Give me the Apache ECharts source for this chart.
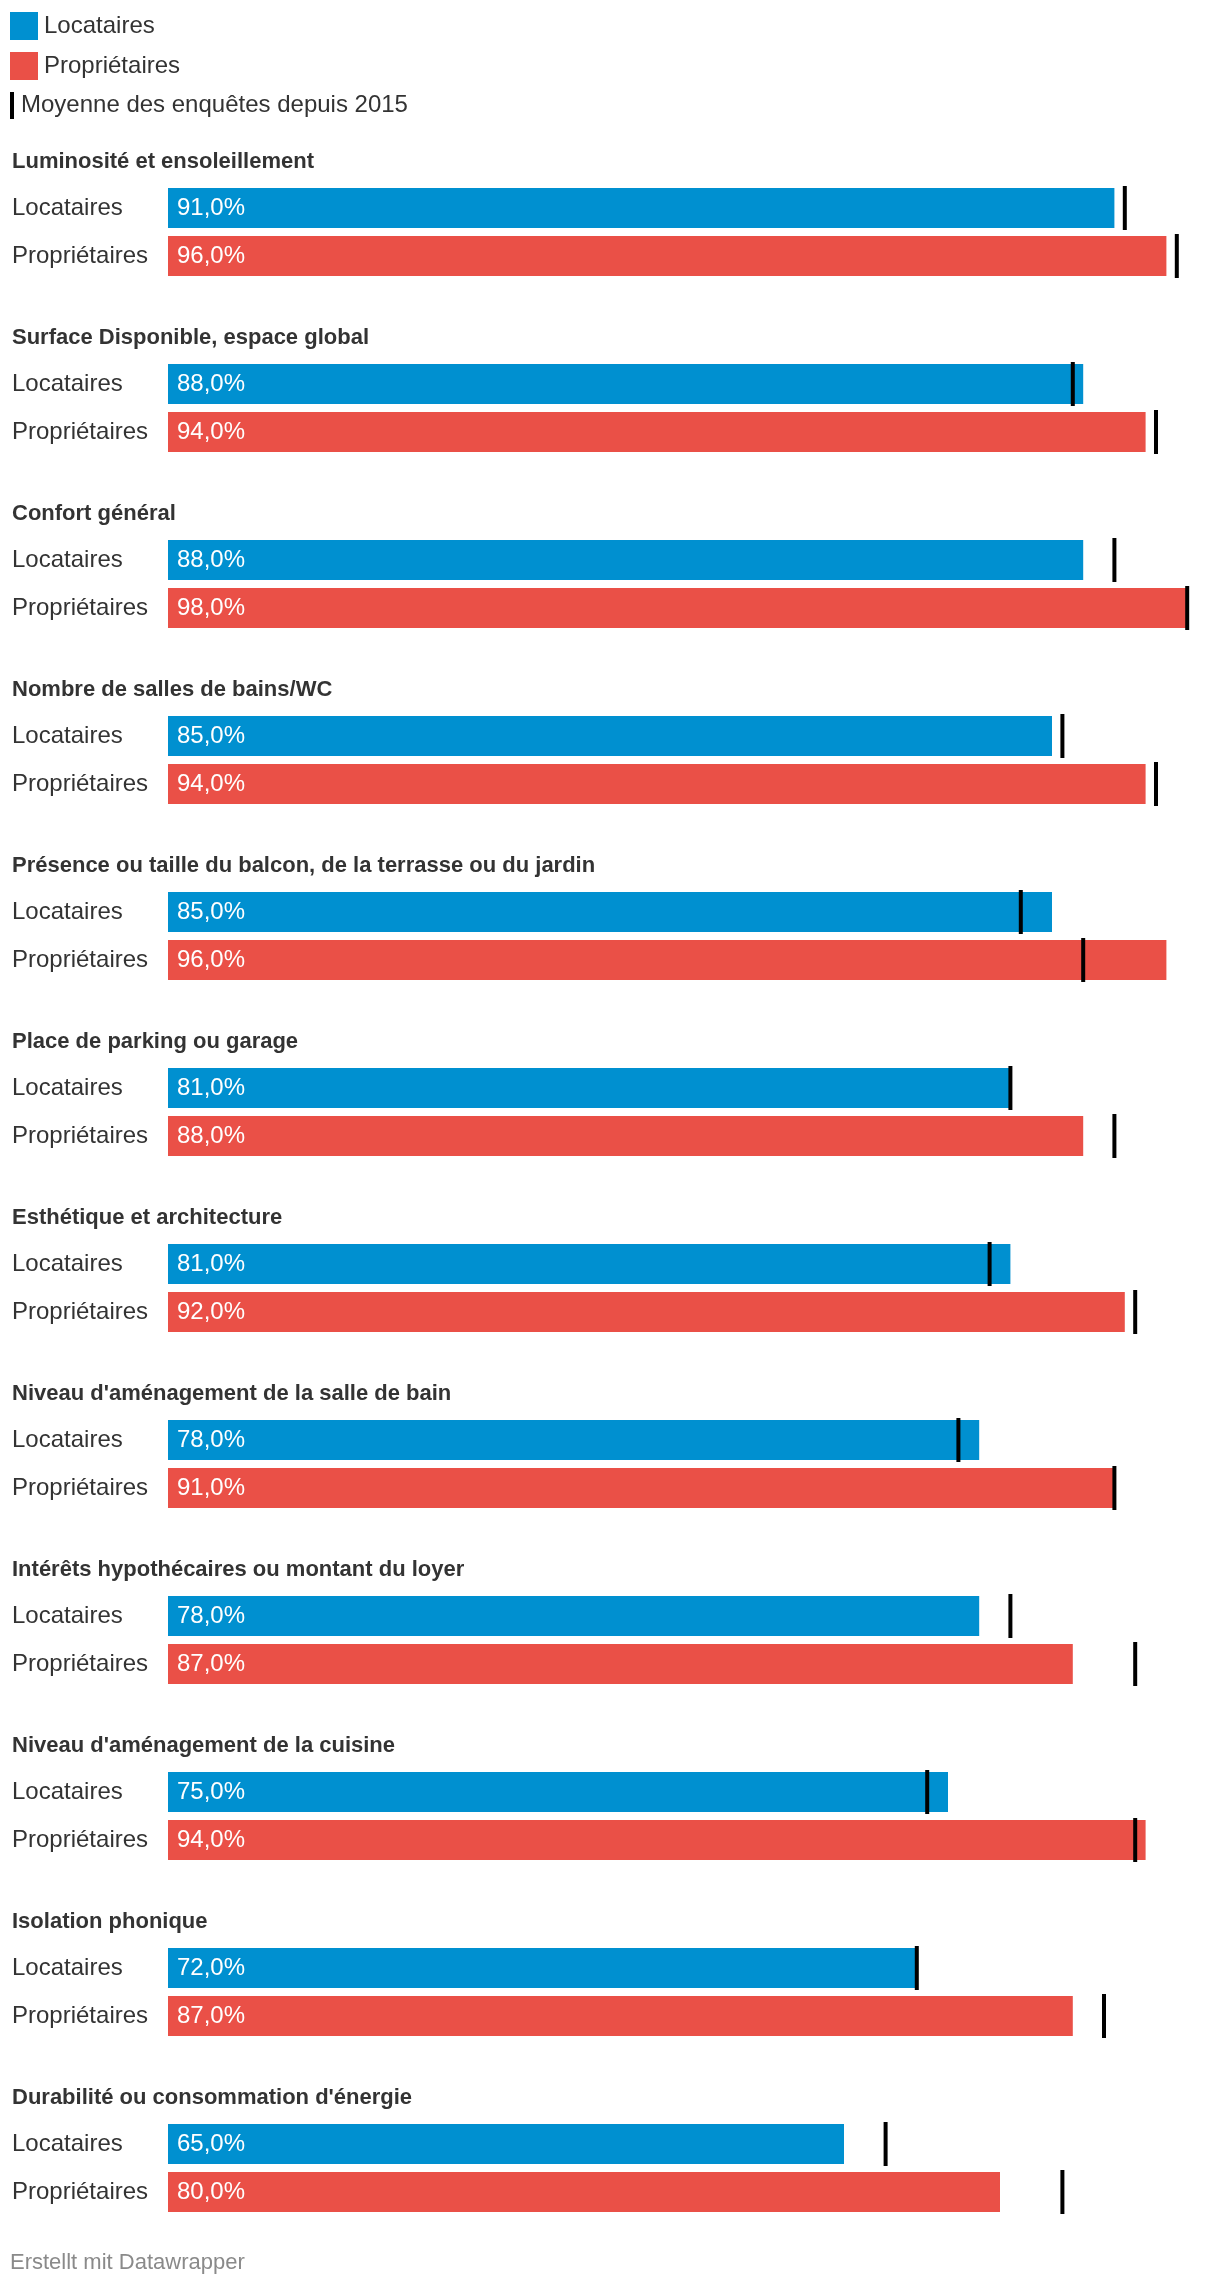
<!DOCTYPE html>
<html>
<head>
<meta charset="utf-8">
<script src="https://cdn.jsdelivr.net/npm/echarts@6/dist/echarts.min.js"></script>
<style>
html,body{margin:0;padding:0;background:#fff;}
#chart{width:1220px;height:2288px;}
</style>
</head>
<body>
<div id="chart"></div>
<script>
const categories = [
  "Luminosité et ensoleillement",
  "Surface Disponible, espace global",
  "Confort général",
  "Nombre de salles de bains/WC",
  "Présence ou taille du balcon, de la terrasse ou du jardin",
  "Place de parking ou garage",
  "Esthétique et architecture",
  "Niveau d'aménagement de la salle de bain",
  "Intérêts hypothécaires ou montant du loyer",
  "Niveau d'aménagement de la cuisine",
  "Isolation phonique",
  "Durabilité ou consommation d'énergie"
];
const rowLabels = ["Locataires", "Propriétaires"];
const locataires = [91, 88, 88, 85, 85, 81, 81, 78, 78, 75, 72, 65];
const proprietaires = [96, 94, 98, 94, 96, 88, 92, 91, 87, 94, 87, 80];
const moyenneLocataires = [92, 87, 91, 86, 82, 81, 79, 76, 81, 73, 72, 69];
const moyenneProprietaires = [97, 95, 98, 95, 88, 91, 93, 91, 93, 93, 90, 86];
const meanLabel = "Moyenne des enquêtes depuis 2015";
const footerText = "Erstellt mit Datawrapper";

const FONT = "'Liberation Sans', Arial, Helvetica, sans-serif";
const BLUE = "#0090d0";
const RED = "#ea5047";
const GROUP_PITCH = 176;
const FIRST_GRID_TOP = 184;

const grids = [], xAxes = [], yAxes = [], series = [], titles = [];
categories.forEach((cat, i) => {
  const top = FIRST_GRID_TOP + GROUP_PITCH * i;
  grids.push({ left: 168, right: 12, top: top, height: 96, containLabel: false });
  xAxes.push({ type: 'value', gridIndex: i, min: 0, max: 100, show: false });
  yAxes.push({
    type: 'category', gridIndex: i, data: rowLabels, inverse: true,
    axisLine: { show: false }, axisTick: { show: false }, splitLine: { show: false },
    axisLabel: { align: 'left', margin: 156, fontSize: 24, color: '#333', fontFamily: FONT }
  });
  titles.push({
    text: cat, left: 12, top: top - 34, padding: 0,
    textStyle: { fontSize: 22, fontWeight: 'bold', color: '#333', fontFamily: FONT, lineHeight: 24 }
  });
  const lbl = {
    show: true, position: 'insideLeft', distance: 9, color: '#fff', fontSize: 24, fontFamily: FONT,
    formatter: p => (typeof p.value === 'number') ? p.value.toFixed(1).replace('.', ',') + '%' : ''
  };
  series.push({
    name: 'Locataires', type: 'bar', xAxisIndex: i, yAxisIndex: i, stack: 'g' + i,
    barWidth: 40, itemStyle: { color: BLUE }, label: lbl,
    data: [locataires[i], '-'], animation: false
  });
  series.push({
    name: 'Propriétaires', type: 'bar', xAxisIndex: i, yAxisIndex: i, stack: 'g' + i,
    barWidth: 40, itemStyle: { color: RED }, label: lbl,
    data: ['-', proprietaires[i]], animation: false
  });
  series.push({
    name: meanLabel, type: 'scatter', xAxisIndex: i, yAxisIndex: i,
    symbol: 'rect', symbolSize: [4, 44], itemStyle: { color: '#000', opacity: 1 }, z: 5,
    emphasis: { disabled: true },
    data: [[moyenneLocataires[i], rowLabels[0]], [moyenneProprietaires[i], rowLabels[1]]],
    animation: false
  });
});

titles.push({
  text: footerText, left: 10, top: 2252, padding: 0,
  textStyle: { fontSize: 22, fontWeight: 'normal', color: '#8a8a8a', fontFamily: FONT, lineHeight: 22 }
});

const chart = echarts.init(document.getElementById('chart'), null, { renderer: 'canvas' });
chart.setOption({
  backgroundColor: '#fff',
  animation: false,
  title: titles,
  legend: [
    {
      data: ['Locataires', 'Propriétaires'], orient: 'vertical', left: 10, top: 12, padding: 0,
      itemWidth: 28, itemHeight: 28, itemGap: 12, icon: 'rect',
      textStyle: { fontSize: 24, color: '#333', fontFamily: FONT, padding: [0, 0, 0, 1] }
    },
    {
      data: [{ name: meanLabel, itemStyle: { color: '#000', opacity: 1 } }], orient: 'vertical', left: 10, top: 92, padding: 0,
      itemWidth: 4, itemHeight: 27, icon: 'rect',
      textStyle: { fontSize: 24, color: '#333', fontFamily: FONT, padding: [0, 0, 0, 2] }
    }
  ],
  grid: grids,
  xAxis: xAxes,
  yAxis: yAxes,
  series: series
});
</script>
</body>
</html>
